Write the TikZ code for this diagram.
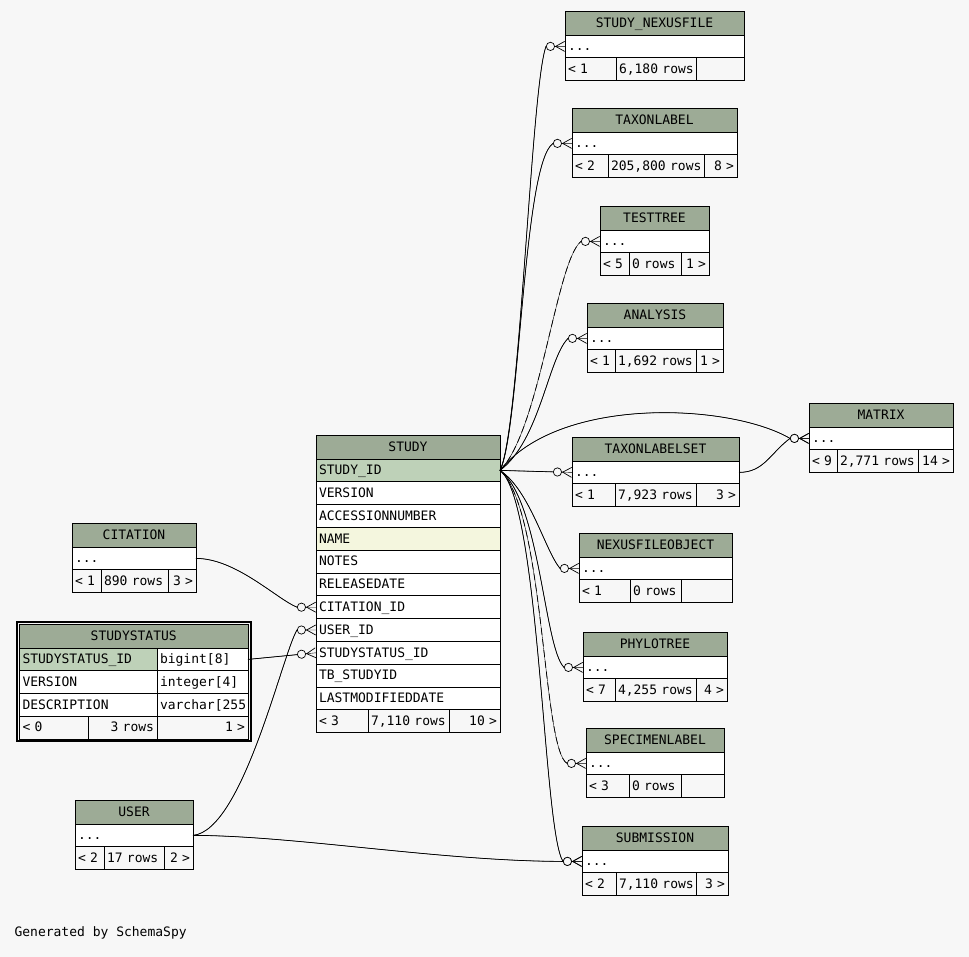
\documentclass[tikz,border=0pt]{standalone}
\usepackage{fontspec}
\setmonofont{DejaVu Sans Mono}
\usepackage{xcolor}
\usepackage{tikz}
\usetikzlibrary{arrows.meta, fit}
\definecolor{bgGray}{RGB}{247,247,247}
\definecolor{hdrGreen}{RGB}{157,171,150}
\definecolor{pkGreen}{RGB}{190,209,184}
\definecolor{idxBeige}{RGB}{244,246,222}

\begin{document}
\begin{tikzpicture}[
    x=1pt, y=-1pt,
    font=\ttfamily\fontsize{13}{15}\selectfont,
    cell/.style={draw=black, line width=0.8pt, anchor=north west, outer sep=0pt,
      inner xsep=3pt, inner ysep=0pt, text height=11pt, text depth=2.5pt},
    hdr/.style={cell, fill=hdrGreen, minimum width=#1, minimum height=24pt},
    fld/.style={cell, fill=white, minimum height=22.8pt, text width=#1, align=left},
    pk/.style={fld=#1, fill=pkGreen},
    idx/.style={fld=#1, fill=idxBeige},
    foot/.style={cell, fill=bgGray, minimum height=22.5pt, text width=#1, align=left},
    footr/.style={foot=#1, align=right},
    rel/.style={line width=0.7pt, preaction={draw, arrows=-},
      -{Circle[fill=bgGray, length=9pt, width=9pt] Straight Barb[reversed, length=9pt, width=10pt]}},
    implied/.style={rel, dash pattern=on 7pt off 4pt}
  ]
    \fill[bgGray] (0,0) rectangle (969,957);

    % STUDY
    \node[hdr=184pt] (study) at (316,435) {STUDY};
    \node[pk=178pt] (studyId) at (study.south west) {STUDY\_ID};
    \node[fld=178pt] (studyVer) at (studyId.south west) {VERSION};
    \node[fld=178pt] (studyAcc) at (studyVer.south west) {ACCESSIONNUMBER};
    \node[idx=178pt] (studyName) at (studyAcc.south west) {NAME};
    \node[fld=178pt] (studyNotes) at (studyName.south west) {NOTES};
    \node[fld=178pt] (studyRel) at (studyNotes.south west) {RELEASEDATE};
    \node[fld=178pt] (studyCit) at (studyRel.south west) {CITATION\_ID};
    \node[fld=178pt] (studyUser) at (studyCit.south west) {USER\_ID};
    \node[fld=178pt] (studyStat) at (studyUser.south west) {STUDYSTATUS\_ID};
    \node[fld=178pt] (studyTb) at (studyStat.south west) {TB\_STUDYID};
    \node[fld=178pt] (studyMod) at (studyTb.south west) {LASTMODIFIEDDATE};
    \node[foot=46pt] (studyF1) at (studyMod.south west) {<~3};
    \node[foot=75pt] (studyF2) at (studyF1.north east) {7,110~rows};
    \node[footr=45pt] (studyF3) at (studyF2.north east) {10~>};

    % CITATION
    \node[hdr=124pt] (cit) at (72,523) {CITATION};
    \node[fld=118pt] (citRow) at (cit.south west) {...};
    \node[foot=23pt] (citF1) at (citRow.south west) {<~1};
    \node[foot=61pt] (citF2) at (citF1.north east) {890~rows};
    \node[footr=22pt] (citF3) at (citF2.north east) {3~>};

    % STUDYSTATUS
    \node[hdr=228.5pt] (ss) at (19.5,624) {STUDYSTATUS};
    \node[pk=131.5pt] (ssN1) at (ss.south west) {STUDYSTATUS\_ID};
    \node[fld=85pt] (ssT1) at (ssN1.north east) {bigint[8]};
    \node[fld=131.5pt] (ssN2) at (ssN1.south west) {VERSION};
    \node[fld=85pt] (ssT2) at (ssN2.north east) {integer[4]};
    \node[fld=131.5pt] (ssN3) at (ssN2.south west) {DESCRIPTION};
    \node[fld=85pt] (ssT3) at (ssN3.north east) {varchar[255};
    \node[foot=62.5pt] (ssF1) at (ssN3.south west) {<~0};
    \node[footr=63pt] (ssF2) at (ssF1.north east) {3~rows};
    \node[footr=85pt] (ssF3) at (ssF2.north east) {1~>};
    \node[draw, line width=2pt, inner sep=2.5pt, fit=(ss)(ssF1)(ssF3)] (ssFrame) {};

    % USER
    \node[hdr=118pt] (user) at (75,800) {USER};
    \node[fld=112pt] (userRow) at (user.south west) {...};
    \node[foot=23pt] (userF1) at (userRow.south west) {<~2};
    \node[foot=54pt] (userF2) at (userF1.north east) {17~rows};
    \node[footr=23pt] (userF3) at (userF2.north east) {2~>};

    % STUDY_NEXUSFILE
    \node[hdr=179pt] (nexus) at (565,11) {STUDY\_NEXUSFILE};
    \node[fld=173pt] (nexusRow) at (nexus.south west) {...};
    \node[foot=45pt] (nexusF1) at (nexusRow.south west) {<~1};
    \node[foot=74pt] (nexusF2) at (nexusF1.north east) {6,180~rows};
    \node[footr=42pt] (nexusF3) at (nexusF2.north east) {};

    % TAXONLABEL
    \node[hdr=165pt] (taxon) at (572,108) {TAXONLABEL};
    \node[fld=159pt] (taxonRow) at (taxon.south west) {...};
    \node[foot=30pt] (taxonF1) at (taxonRow.south west) {<~2};
    \node[foot=90pt] (taxonF2) at (taxonF1.north east) {205,800~rows};
    \node[footr=27pt] (taxonF3) at (taxonF2.north east) {8~>};

    % TESTTREE
    \node[hdr=109pt] (test) at (600,206) {TESTTREE};
    \node[fld=103pt] (testRow) at (test.south west) {...};
    \node[foot=23pt] (testF1) at (testRow.south west) {<~5};
    \node[foot=46pt] (testF2) at (testF1.north east) {0~rows};
    \node[footr=22pt] (testF3) at (testF2.north east) {1~>};

    % ANALYSIS
    \node[hdr=136pt] (ana) at (587,303) {ANALYSIS};
    \node[fld=130pt] (anaRow) at (ana.south west) {...};
    \node[foot=22pt] (anaF1) at (anaRow.south west) {<~1};
    \node[foot=75pt] (anaF2) at (anaF1.north east) {1,692~rows};
    \node[footr=21pt] (anaF3) at (anaF2.north east) {1~>};

    % MATRIX
    \node[hdr=144pt] (matrix) at (809,403) {MATRIX};
    \node[fld=138pt] (matrixRow) at (matrix.south west) {...};
    \node[foot=22pt] (matrixF1) at (matrixRow.south west) {<~9};
    \node[foot=75pt] (matrixF2) at (matrixF1.north east) {2,771~rows};
    \node[footr=29pt] (matrixF3) at (matrixF2.north east) {14~>};

    % TAXONLABELSET
    \node[hdr=167pt] (tset) at (572,437) {TAXONLABELSET};
    \node[fld=161pt] (tsetRow) at (tset.south west) {...};
    \node[foot=37pt] (tsetF1) at (tsetRow.south west) {<~1};
    \node[foot=75pt] (tsetF2) at (tsetF1.north east) {7,923~rows};
    \node[footr=37pt] (tsetF3) at (tsetF2.north east) {3~>};

    % NEXUSFILEOBJECT
    \node[hdr=153pt] (nfo) at (579,533) {NEXUSFILEOBJECT};
    \node[fld=147pt] (nfoRow) at (nfo.south west) {...};
    \node[foot=45pt] (nfoF1) at (nfoRow.south west) {<~1};
    \node[foot=45pt] (nfoF2) at (nfoF1.north east) {0~rows};
    \node[footr=45pt] (nfoF3) at (nfoF2.north east) {};

    % PHYLOTREE
    \node[hdr=144pt] (phylo) at (583,632) {PHYLOTREE};
    \node[fld=138pt] (phyloRow) at (phylo.south west) {...};
    \node[foot=26pt] (phyloF1) at (phyloRow.south west) {<~7};
    \node[foot=75pt] (phyloF2) at (phyloF1.north east) {4,255~rows};
    \node[footr=25pt] (phyloF3) at (phyloF2.north east) {4~>};

    % SPECIMENLABEL
    \node[hdr=138pt] (spec) at (586,728) {SPECIMENLABEL};
    \node[fld=132pt] (specRow) at (spec.south west) {...};
    \node[foot=37pt] (specF1) at (specRow.south west) {<~3};
    \node[foot=46pt] (specF2) at (specF1.north east) {0~rows};
    \node[footr=37pt] (specF3) at (specF2.north east) {};

    % SUBMISSION
    \node[hdr=146pt] (subm) at (582,826) {SUBMISSION};
    \node[fld=140pt] (submRow) at (subm.south west) {...};
    \node[foot=28pt] (submF1) at (submRow.south west) {<~2};
    \node[foot=74pt] (submF2) at (submF1.north east) {7,110~rows};
    \node[footr=26pt] (submF3) at (submF2.north east) {3~>};

    \node[anchor=west] (gen) at (11,933) {Generated by SchemaSpy};

    % relationships, ending in a short straight run into the child row
    \draw[rel] (studyId.east) .. controls +(20,-40) and +(-15,40) .. ([xshift=-19pt]nexusRow.west) -- (nexusRow.west);
    \draw[rel] (studyId.east) .. controls +(20,-40) and +(-30,20) .. ([xshift=-19pt]taxonRow.west) -- (taxonRow.west);
    \draw[implied] (studyId.east) .. controls +(40,-40) and +(-25,20) .. ([xshift=-19pt]testRow.west) -- (testRow.west);
    \draw[rel] (studyId.east) .. controls +(40,-30) and +(-20,20) .. ([xshift=-19pt]anaRow.west) -- (anaRow.west);
    \draw[rel] (studyId.east) .. controls +(60,-75) and +(-60,-35) .. ([xshift=-19pt]matrixRow.west) -- (matrixRow.west);
    \draw[rel] (studyId.east) -- (tsetRow.west);
    \draw[rel] (studyId.east) .. controls +(30,20) and +(-15,-18) .. ([xshift=-19pt]nfoRow.west) -- (nfoRow.west);
    \draw[rel] (studyId.east) .. controls +(40,30) and +(-20,-20) .. ([xshift=-19pt]phyloRow.west) -- (phyloRow.west);
    \draw[implied] (studyId.east) .. controls +(45,40) and +(-25,-15) .. ([xshift=-19pt]specRow.west) -- (specRow.west);
    \draw[rel] (studyId.east) .. controls +(40,30) and +(-20,-30) .. ([xshift=-19pt]submRow.west) -- (submRow.west);
    \draw[rel] (tsetRow.east) .. controls +(25,0) and +(-20,15) .. ([xshift=-19pt]matrixRow.west) -- (matrixRow.west);
    \draw[rel] (citRow.east) .. controls +(40,0) and +(-20,-8) .. ([xshift=-19pt]studyCit.west) -- (studyCit.west);
    \draw[rel] (userRow.east) .. controls +(50,-5) and +(-15,25) .. ([xshift=-19pt]studyUser.west) -- (studyUser.west);
    \draw[rel] (userRow.east) .. controls +(100,0) and +(-120,0) .. ([xshift=-19pt]submRow.west) -- (submRow.west);
    \draw[rel] (ssT1.east) -- (studyStat.west);
  \end{tikzpicture}
\end{document}
